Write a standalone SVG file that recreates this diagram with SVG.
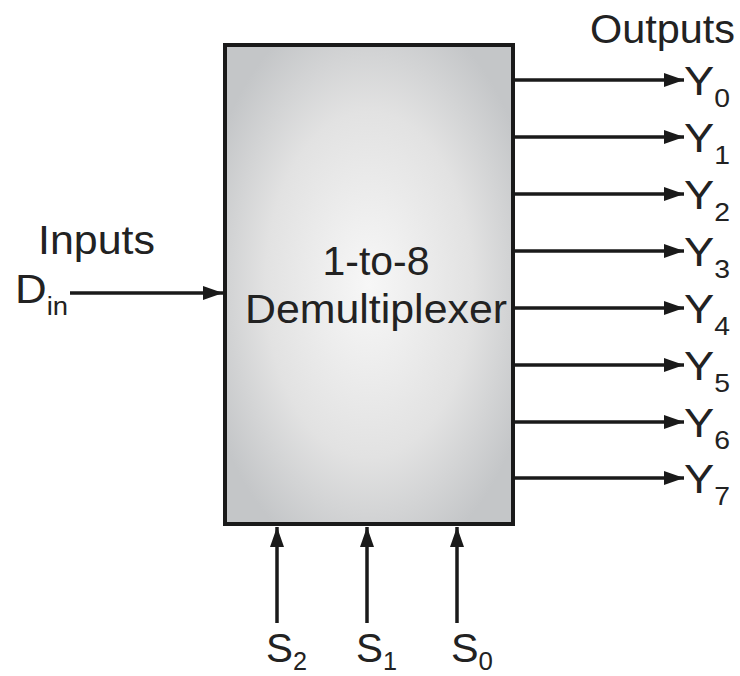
<svg xmlns="http://www.w3.org/2000/svg" width="740" height="676" viewBox="0 0 740 676">
<defs>
<radialGradient id="g" cx="50%" cy="50%" r="60%">
<stop offset="0" stop-color="#f7f7f7"/>
<stop offset="0.6" stop-color="#e2e2e2"/>
<stop offset="1" stop-color="#c4c6c8"/>
</radialGradient>
<marker id="ah" viewBox="0 0 20 14" refX="20" refY="7" markerWidth="20" markerHeight="14" markerUnits="userSpaceOnUse" orient="auto">
<path d="M0,0 L20,7 L0,14 Z" fill="#1a1a1a"/>
</marker>
<style>
text{font-family:"Liberation Sans",Arial,sans-serif;fill:#222;}
.t{font-size:40px;}
.s{font-size:25px;}
.c{stroke:#1a1a1a;stroke-width:3.5;fill:none;marker-end:url(#ah);}
</style>
</defs>
<rect width="740" height="676" fill="#fff"/>
<g id="demux">
<rect x="225" y="45" width="288" height="479" fill="url(#g)" stroke="#1a1a1a" stroke-width="4"/>
<text class="t" x="376" y="275" text-anchor="middle" font-size="41" textLength="107" lengthAdjust="spacingAndGlyphs">1-to-8</text>
<text class="t" x="376" y="323" text-anchor="middle" font-size="41" textLength="262" lengthAdjust="spacingAndGlyphs">Demultiplexer</text>
</g>
<g id="inputs">
<text class="t" x="38" y="254" textLength="117" lengthAdjust="spacingAndGlyphs">Inputs</text>
<text class="t" x="15" y="303" textLength="53" lengthAdjust="spacingAndGlyphs">D<tspan class="s" dy="12">in</tspan></text>
</g>
<g id="outputs">
<text class="t" x="590" y="43" textLength="145" lengthAdjust="spacingAndGlyphs">Outputs</text>
<text class="t" x="684" y="95" textLength="46" lengthAdjust="spacingAndGlyphs">Y<tspan class="s" dy="12">0</tspan></text>
<text class="t" x="684" y="152" textLength="46" lengthAdjust="spacingAndGlyphs">Y<tspan class="s" dy="12">1</tspan></text>
<text class="t" x="684" y="209" textLength="46" lengthAdjust="spacingAndGlyphs">Y<tspan class="s" dy="12">2</tspan></text>
<text class="t" x="684" y="266" textLength="46" lengthAdjust="spacingAndGlyphs">Y<tspan class="s" dy="12">3</tspan></text>
<text class="t" x="684" y="323" textLength="46" lengthAdjust="spacingAndGlyphs">Y<tspan class="s" dy="12">4</tspan></text>
<text class="t" x="684" y="380" textLength="46" lengthAdjust="spacingAndGlyphs">Y<tspan class="s" dy="12">5</tspan></text>
<text class="t" x="684" y="437" textLength="46" lengthAdjust="spacingAndGlyphs">Y<tspan class="s" dy="12">6</tspan></text>
<text class="t" x="684" y="493" textLength="46" lengthAdjust="spacingAndGlyphs">Y<tspan class="s" dy="12">7</tspan></text>
</g>
<g id="selects">
<text class="t" x="266" y="662" textLength="41" lengthAdjust="spacingAndGlyphs">S<tspan class="s" dy="8">2</tspan></text>
<text class="t" x="356" y="662" textLength="41" lengthAdjust="spacingAndGlyphs">S<tspan class="s" dy="8">1</tspan></text>
<text class="t" x="451" y="662" textLength="42" lengthAdjust="spacingAndGlyphs">S<tspan class="s" dy="8">0</tspan></text>
</g>
<g id="connectors">
<line class="c" x1="70" y1="293" x2="223" y2="293"/>
<line class="c" x1="515" y1="80" x2="684" y2="80"/>
<line class="c" x1="515" y1="137" x2="684" y2="137"/>
<line class="c" x1="515" y1="194" x2="684" y2="194"/>
<line class="c" x1="515" y1="251" x2="684" y2="251"/>
<line class="c" x1="515" y1="308" x2="684" y2="308"/>
<line class="c" x1="515" y1="365" x2="684" y2="365"/>
<line class="c" x1="515" y1="422" x2="684" y2="422"/>
<line class="c" x1="515" y1="478" x2="684" y2="478"/>
<line class="c" x1="277" y1="623" x2="277" y2="527"/>
<line class="c" x1="367" y1="623" x2="367" y2="527"/>
<line class="c" x1="457" y1="623" x2="457" y2="527"/>
</g>
</svg>
